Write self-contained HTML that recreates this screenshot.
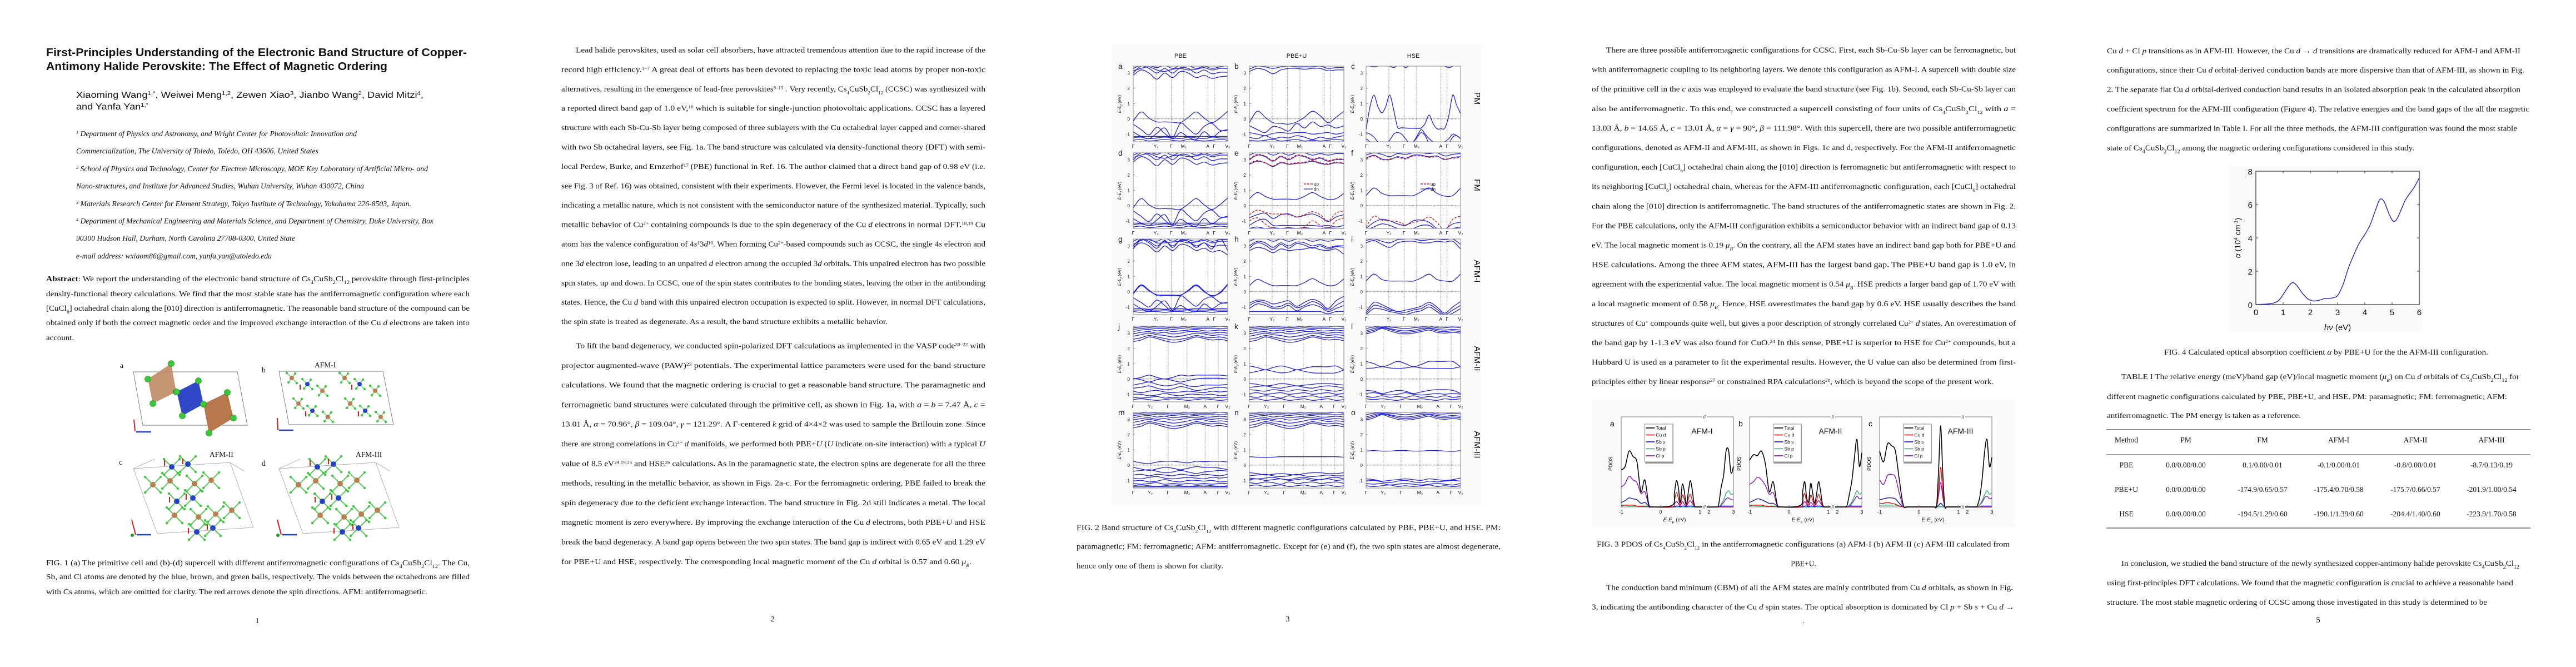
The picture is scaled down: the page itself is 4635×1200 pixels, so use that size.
<!DOCTYPE html>
<html><head><meta charset="utf-8">
<style>
html,body{margin:0;padding:0;background:#fff;}
body{width:4635px;height:1200px;overflow:hidden;position:relative;}
svg{position:absolute;left:0;top:0;}
.s{font-family:"Liberation Serif",serif;font-size:13.5px;fill:#111;}
.sa{font-family:"Liberation Sans",sans-serif;fill:#111;}
.it{font-style:italic;}
</style></head>
<body>
<svg id="page" width="4635" height="1200" viewBox="0 0 4635 1200" xmlns="http://www.w3.org/2000/svg">
<rect width="4635" height="1200" fill="#fff"/>
<!-- figure backgrounds -->
<rect x="2000" y="80" width="665" height="830" fill="#fafafa"/>
<rect x="2864" y="719" width="763" height="230" fill="#fafafa"/>
<rect x="4010" y="297" width="349" height="299" fill="#fafafa"/>

<!-- ================= PAGE 1 ================= -->
<g>
<text class="sa" x="83" y="101" font-size="20" font-weight="bold" textLength="757" lengthAdjust="spacingAndGlyphs">First-Principles Understanding of the Electronic Band Structure of Copper-</text>
<text class="sa" x="83" y="126" font-size="20" font-weight="bold" textLength="614" lengthAdjust="spacingAndGlyphs">Antimony Halide Perovskite: The Effect of Magnetic Ordering</text>
<text class="sa" x="137" y="176" font-size="16" textLength="625" lengthAdjust="spacingAndGlyphs">Xiaoming Wang<tspan baseline-shift="super" font-size="10">1,*</tspan>, Weiwei Meng<tspan baseline-shift="super" font-size="10">1,2</tspan>, Zewen Xiao<tspan baseline-shift="super" font-size="10">3</tspan>, Jianbo Wang<tspan baseline-shift="super" font-size="10">2</tspan>, David Mitzi<tspan baseline-shift="super" font-size="10">4</tspan>,</text>
<text class="sa" x="137" y="197" font-size="16" textLength="130" lengthAdjust="spacingAndGlyphs">and Yanfa Yan<tspan baseline-shift="super" font-size="10">1,*</tspan></text>
<g class="s it" font-size="12.5">
<text x="137" y="245" textLength="505" lengthAdjust="spacingAndGlyphs"><tspan baseline-shift="super" font-size="8">1</tspan> Department of Physics and Astronomy, and Wright Center for Photovoltaic Innovation and</text>
<text x="137" y="276" textLength="436" lengthAdjust="spacingAndGlyphs">Commercialization, The University of Toledo, Toledo, OH 43606, United States</text>
<text x="137" y="308" textLength="633" lengthAdjust="spacingAndGlyphs"><tspan baseline-shift="super" font-size="8">2</tspan> School of Physics and Technology, Center for Electron Microscopy, MOE Key Laboratory of Artificial Micro- and</text>
<text x="137" y="339" textLength="518" lengthAdjust="spacingAndGlyphs">Nano-structures, and Institute for Advanced Studies, Wuhan University, Wuhan 430072, China</text>
<text x="137" y="371" textLength="603" lengthAdjust="spacingAndGlyphs"><tspan baseline-shift="super" font-size="8">3</tspan> Materials Research Center for Element Strategy, Tokyo Institute of Technology, Yokohama 226-8503, Japan.</text>
<text x="137" y="402" textLength="643" lengthAdjust="spacingAndGlyphs"><tspan baseline-shift="super" font-size="8">4</tspan> Department of Mechanical Engineering and Materials Science, and Department of Chemistry, Duke University, Box</text>
<text x="137" y="433" textLength="394" lengthAdjust="spacingAndGlyphs">90300 Hudson Hall, Durham, North Carolina 27708-0300, United State</text>
<text x="137" y="465" textLength="352" lengthAdjust="spacingAndGlyphs">e-mail address: wxiaom86@gmail.com, yanfa.yan@utoledo.edu</text>
</g>
<g class="s" font-size="14">
<text x="83" y="506" textLength="762" lengthAdjust="spacingAndGlyphs"><tspan font-weight="bold">Abstract</tspan>: We report the understanding of the electronic band structure of Cs<tspan baseline-shift="sub" font-size="9">4</tspan>CuSb<tspan baseline-shift="sub" font-size="9">2</tspan>Cl<tspan baseline-shift="sub" font-size="9">12</tspan> perovskite through first-principles</text>
<text x="83" y="533" textLength="762" lengthAdjust="spacingAndGlyphs">density-functional theory calculations. We find that the most stable state has the antiferromagnetic configuration where each</text>
<text x="83" y="559" textLength="762" lengthAdjust="spacingAndGlyphs">[CuCl<tspan baseline-shift="sub" font-size="9">6</tspan>] octahedral chain along the [010] direction is antiferromagnetic. The reasonable band structure of the compound can be</text>
<text x="83" y="585" textLength="762" lengthAdjust="spacingAndGlyphs">obtained only if both the correct magnetic order and the improved exchange interaction of the Cu <tspan class="it">d</tspan> electrons are taken into</text>
<text x="83" y="612" textLength="50" lengthAdjust="spacingAndGlyphs">account.</text>
</g>
<g id="fig1"></g>
<g class="s" font-size="14">
<text x="83" y="1017" textLength="762" lengthAdjust="spacingAndGlyphs">FIG. 1 (a) The primitive cell and (b)-(d) supercell with different antiferromagnetic configurations of Cs<tspan baseline-shift="sub" font-size="9">4</tspan>CuSb<tspan baseline-shift="sub" font-size="9">2</tspan>Cl<tspan baseline-shift="sub" font-size="9">12</tspan>. The Cu,</text>
<text x="83" y="1042" textLength="762" lengthAdjust="spacingAndGlyphs">Sb, and Cl atoms are denoted by the blue, brown, and green balls, respectively. The voids between the octahedrons are filled</text>
<text x="83" y="1069" textLength="686" lengthAdjust="spacingAndGlyphs">with Cs atoms, which are omitted for clarity.  The red arrows denote the spin directions. AFM: antiferromagnetic.</text>
</g>
<text class="s" x="463" y="1121" font-size="15" text-anchor="middle">1</text>
</g>

<!-- ================= PAGE 2 ================= -->
<g class="s" font-size="13">
<text x="1036" y="94.5" textLength="737" lengthAdjust="spacingAndGlyphs">Lead halide perovskites, used as solar cell absorbers, have attracted tremendous attention due to the rapid increase of the</text>
<text x="1010" y="129.4" textLength="763" lengthAdjust="spacingAndGlyphs">record high efficiency.<tspan baseline-shift="super" font-size="8">1–7</tspan> A great deal of efforts has been devoted to replacing the toxic lead atoms by proper non-toxic</text>
<text x="1010" y="164.3" textLength="763" lengthAdjust="spacingAndGlyphs">alternatives, resulting in the emergence of lead-free perovskites<tspan baseline-shift="super" font-size="8">8–15</tspan> . Very recently, Cs<tspan baseline-shift="sub" font-size="8">4</tspan>CuSb<tspan baseline-shift="sub" font-size="8">2</tspan>Cl<tspan baseline-shift="sub" font-size="8">12</tspan> (CCSC) was synthesized with</text>
<text x="1010" y="199.2" textLength="763" lengthAdjust="spacingAndGlyphs">a reported direct band gap of 1.0 eV,<tspan baseline-shift="super" font-size="8">16</tspan> which is suitable for single-junction photovoltaic applications. CCSC has a layered</text>
<text x="1010" y="234.1" textLength="763" lengthAdjust="spacingAndGlyphs">structure with each Sb-Cu-Sb layer being composed of three sublayers with the Cu octahedral layer capped and corner-shared</text>
<text x="1010" y="269" textLength="763" lengthAdjust="spacingAndGlyphs">with two Sb octahedral layers, see Fig. 1a. The band structure was calculated via density-functional theory (DFT) with semi-</text>
<text x="1010" y="303.9" textLength="763" lengthAdjust="spacingAndGlyphs">local Perdew, Burke, and Ernzerhof<tspan baseline-shift="super" font-size="8">17</tspan> (PBE) functional in Ref. 16. The author claimed that a direct band gap of 0.98 eV (i.e.</text>
<text x="1010" y="338.8" textLength="763" lengthAdjust="spacingAndGlyphs">see Fig. 3 of Ref. 16) was obtained, consistent with their experiments. However, the Fermi level is located in the valence bands,</text>
<text x="1010" y="373.7" textLength="763" lengthAdjust="spacingAndGlyphs">indicating a metallic nature, which is not consistent with the semiconductor nature of the synthesized material. Typically, such</text>
<text x="1010" y="408.6" textLength="763" lengthAdjust="spacingAndGlyphs">metallic behavior of Cu<tspan baseline-shift="super" font-size="8">2+</tspan> containing compounds is due to the spin degeneracy of the Cu <tspan class="it">d</tspan> electrons in normal DFT.<tspan baseline-shift="super" font-size="8">18,19</tspan> Cu</text>
<text x="1010" y="443.5" textLength="763" lengthAdjust="spacingAndGlyphs">atom has the valence configuration of 4<tspan class="it">s</tspan><tspan baseline-shift="super" font-size="8">1</tspan>3<tspan class="it">d</tspan><tspan baseline-shift="super" font-size="8">10</tspan>. When forming Cu<tspan baseline-shift="super" font-size="8">2+</tspan>-based compounds such as CCSC, the single 4<tspan class="it">s</tspan> electron and</text>
<text x="1010" y="478.4" textLength="763" lengthAdjust="spacingAndGlyphs">one 3<tspan class="it">d</tspan> electron lose, leading to an unpaired <tspan class="it">d</tspan> electron among the occupied 3<tspan class="it">d</tspan> orbitals. This unpaired electron has two possible</text>
<text x="1010" y="513.3" textLength="763" lengthAdjust="spacingAndGlyphs">spin states, up and down. In CCSC, one of the spin states contributes to the bonding states, leaving the other in the antibonding</text>
<text x="1010" y="548.2" textLength="763" lengthAdjust="spacingAndGlyphs">states. Hence, the Cu <tspan class="it">d</tspan> band with this unpaired electron occupation is expected to split. However, in normal DFT calculations,</text>
<text x="1010" y="583.1" textLength="587" lengthAdjust="spacingAndGlyphs">the spin state is treated as degenerate. As a result, the band structure exhibits a metallic behavior.</text>
<text x="1036" y="626.5" textLength="737" lengthAdjust="spacingAndGlyphs">To lift the band degeneracy, we conducted spin-polarized DFT calculations as implemented in the VASP code<tspan baseline-shift="super" font-size="8">20–22</tspan> with</text>
<text x="1010" y="661.8" textLength="763" lengthAdjust="spacingAndGlyphs">projector augmented-wave (PAW)<tspan baseline-shift="super" font-size="8">23</tspan> potentials. The experimental lattice parameters were used for the band structure</text>
<text x="1010" y="697.1" textLength="763" lengthAdjust="spacingAndGlyphs">calculations. We found that the magnetic ordering is crucial to get a reasonable band structure. The paramagnetic and</text>
<text x="1010" y="732.4" textLength="763" lengthAdjust="spacingAndGlyphs">ferromagnetic band structures were calculated through the primitive cell, as shown in Fig. 1a, with <tspan class="it">a</tspan> = <tspan class="it">b</tspan> = 7.47 Å, <tspan class="it">c</tspan> =</text>
<text x="1010" y="767.7" textLength="763" lengthAdjust="spacingAndGlyphs">13.01 Å, <tspan class="it">α</tspan> = 70.96°, <tspan class="it">β</tspan> = 109.04°, <tspan class="it">γ</tspan> = 121.29°. A Γ-centered <tspan class="it">k</tspan> grid of 4×4×2 was used to sample the Brillouin zone. Since</text>
<text x="1010" y="803" textLength="763" lengthAdjust="spacingAndGlyphs">there are strong correlations in Cu<tspan baseline-shift="super" font-size="8">2+</tspan> <tspan class="it">d</tspan> manifolds, we performed both PBE+<tspan class="it">U</tspan> (<tspan class="it">U</tspan> indicate on-site interaction) with a typical <tspan class="it">U</tspan></text>
<text x="1010" y="838.3" textLength="763" lengthAdjust="spacingAndGlyphs">value of 8.5 eV<tspan baseline-shift="super" font-size="8">24,19,25</tspan> and HSE<tspan baseline-shift="super" font-size="8">26</tspan> calculations. As in the paramagnetic state, the electron spins are degenerate for all the three</text>
<text x="1010" y="873.6" textLength="763" lengthAdjust="spacingAndGlyphs">methods, resulting in the metallic behavior, as shown in Figs. 2a-c. For the ferromagnetic ordering, PBE failed to break the</text>
<text x="1010" y="908.9" textLength="763" lengthAdjust="spacingAndGlyphs">spin degeneracy due to the deficient exchange interaction. The band structure in Fig. 2d still indicates a metal. The local</text>
<text x="1010" y="944.2" textLength="763" lengthAdjust="spacingAndGlyphs">magnetic moment is zero everywhere. By improving the exchange interaction of the Cu <tspan class="it">d</tspan> electrons, both PBE+<tspan class="it">U</tspan> and HSE</text>
<text x="1010" y="979.5" textLength="763" lengthAdjust="spacingAndGlyphs">break the band degeneracy. A band gap opens between the two spin states.  The band gap is indirect with 0.65 eV and 1.29 eV</text>
<text x="1010" y="1014.8" textLength="738" lengthAdjust="spacingAndGlyphs">for PBE+U and HSE, respectively. The corresponding local magnetic moment of the Cu <tspan class="it">d</tspan> orbital is 0.57 and 0.60 <tspan class="it">μ</tspan><tspan baseline-shift="sub" font-size="8" class="it">B</tspan>.</text>
<text x="1390" y="1118" font-size="14" text-anchor="middle">2</text>
</g>

<!-- ================= PAGE 3 ================= -->
<g id="fig2"></g>
<g class="s" font-size="13">
<text x="1937" y="953.5" textLength="763" lengthAdjust="spacingAndGlyphs">FIG. 2 Band structure of Cs<tspan baseline-shift="sub" font-size="8">4</tspan>CuSb<tspan baseline-shift="sub" font-size="8">2</tspan>Cl<tspan baseline-shift="sub" font-size="8">12</tspan> with different magnetic configurations calculated by PBE, PBE+U, and HSE. PM:</text>
<text x="1937" y="987.5" textLength="763" lengthAdjust="spacingAndGlyphs">paramagnetic; FM: ferromagnetic; AFM: antiferromagnetic. Except for (e) and (f), the two spin states are almost degenerate,</text>
<text x="1937" y="1022.5" textLength="264" lengthAdjust="spacingAndGlyphs">hence only one of them is shown for clarity.</text>
<text x="2317" y="1118" font-size="14" text-anchor="middle">3</text>
</g>

<!-- ================= PAGE 4 ================= -->
<g class="s" font-size="13">
<text x="2890" y="94.5" textLength="737" lengthAdjust="spacingAndGlyphs">There are three possible antiferromagnetic configurations for CCSC. First, each Sb-Cu-Sb layer can be ferromagnetic, but</text>
<text x="2864" y="129.6" textLength="763" lengthAdjust="spacingAndGlyphs">with antiferromagnetic coupling to its neighboring layers. We denote this configuration as AFM-I. A supercell with double size</text>
<text x="2864" y="164.7" textLength="763" lengthAdjust="spacingAndGlyphs">of the primitive cell in the <tspan class="it">c</tspan> axis was employed to evaluate the band structure (see Fig. 1b). Second, each Sb-Cu-Sb layer can</text>
<text x="2864" y="199.8" textLength="763" lengthAdjust="spacingAndGlyphs">also be antiferromagnetic. To this end, we constructed a supercell consisting of four units of Cs<tspan baseline-shift="sub" font-size="8">4</tspan>CuSb<tspan baseline-shift="sub" font-size="8">2</tspan>Cl<tspan baseline-shift="sub" font-size="8">12</tspan> with <tspan class="it">a</tspan> =</text>
<text x="2864" y="234.9" textLength="763" lengthAdjust="spacingAndGlyphs">13.03 Å, <tspan class="it">b</tspan> = 14.65 Å, <tspan class="it">c</tspan> = 13.01 Å, <tspan class="it">α</tspan> = <tspan class="it">γ</tspan> = 90°, <tspan class="it">β</tspan> = 111.98°. With this supercell, there are two possible antiferromagnetic</text>
<text x="2864" y="270" textLength="763" lengthAdjust="spacingAndGlyphs">configurations, denoted as AFM-II and AFM-III, as shown in Figs. 1c and d, respectively. For the AFM-II antiferromagnetic</text>
<text x="2864" y="305.1" textLength="763" lengthAdjust="spacingAndGlyphs">configuration, each [CuCl<tspan baseline-shift="sub" font-size="8">6</tspan>] octahedral chain along the [010] direction is ferromagnetic but antiferromagnetic with respect to</text>
<text x="2864" y="340.2" textLength="763" lengthAdjust="spacingAndGlyphs">its neighboring [CuCl<tspan baseline-shift="sub" font-size="8">6</tspan>] octahedral chain, whereas for the AFM-III antiferromagnetic configuration, each [CuCl<tspan baseline-shift="sub" font-size="8">6</tspan>] octahedral</text>
<text x="2864" y="375.3" textLength="763" lengthAdjust="spacingAndGlyphs">chain along the [010] direction is antiferromagnetic.  The band structures of the antiferromagnetic states are shown in Fig. 2.</text>
<text x="2864" y="410.4" textLength="763" lengthAdjust="spacingAndGlyphs">For the PBE calculations, only the AFM-III configuration exhibits a semiconductor behavior with an indirect band gap of 0.13</text>
<text x="2864" y="445.5" textLength="763" lengthAdjust="spacingAndGlyphs">eV. The local magnetic moment is 0.19 <tspan class="it">μ</tspan><tspan baseline-shift="sub" font-size="8" class="it">B</tspan>. On the contrary, all the AFM states have an indirect band gap both for PBE+U and</text>
<text x="2864" y="480.6" textLength="763" lengthAdjust="spacingAndGlyphs">HSE calculations. Among the three AFM states, AFM-III has the largest band gap. The PBE+U band gap is 1.0 eV, in</text>
<text x="2864" y="515.7" textLength="763" lengthAdjust="spacingAndGlyphs">agreement with the experimental value. The local magnetic moment is 0.54 <tspan class="it">μ</tspan><tspan baseline-shift="sub" font-size="8" class="it">B</tspan>. HSE predicts a larger band gap of 1.70 eV with</text>
<text x="2864" y="550.8" textLength="763" lengthAdjust="spacingAndGlyphs">a local magnetic moment of 0.58 <tspan class="it">μ</tspan><tspan baseline-shift="sub" font-size="8" class="it">B</tspan>. Hence, HSE overestimates the band gap by 0.6 eV. HSE usually describes the band</text>
<text x="2864" y="585.9" textLength="763" lengthAdjust="spacingAndGlyphs">structures of Cu<tspan baseline-shift="super" font-size="8">+</tspan> compounds quite well, but gives a poor description of strongly correlated Cu<tspan baseline-shift="super" font-size="8">2+</tspan> <tspan class="it">d</tspan> states. An overestimation of</text>
<text x="2864" y="621" textLength="763" lengthAdjust="spacingAndGlyphs">the band gap by 1-1.3 eV was also found for CuO.<tspan baseline-shift="super" font-size="8">24</tspan> In this sense, PBE+U is superior to HSE for Cu<tspan baseline-shift="super" font-size="8">2+</tspan> compounds, but a</text>
<text x="2864" y="656.1" textLength="763" lengthAdjust="spacingAndGlyphs">Hubbard U is used as a parameter to fit the experimental results. However, the U value can also be determined from first-</text>
<text x="2864" y="691.2" textLength="723" lengthAdjust="spacingAndGlyphs">principles either by linear response<tspan baseline-shift="super" font-size="8">27</tspan> or constrained RPA calculations<tspan baseline-shift="super" font-size="8">28</tspan>, which is beyond the scope of the present work.</text>
</g>
<g id="fig3"></g>
<g class="s" font-size="13">
<text x="2873" y="983.5" textLength="743" lengthAdjust="spacingAndGlyphs">FIG. 3 PDOS of Cs<tspan baseline-shift="sub" font-size="8">4</tspan>CuSb<tspan baseline-shift="sub" font-size="8">2</tspan>Cl<tspan baseline-shift="sub" font-size="8">12</tspan> in the antiferromagnetic configurations (a) AFM-I (b) AFM-II (c) AFM-III calculated from</text>
<text x="3245" y="1018.5" text-anchor="middle">PBE+U.</text>
<text x="2890" y="1061.5" textLength="732" lengthAdjust="spacingAndGlyphs">The conduction band minimum (CBM) of all the AFM states are mainly contributed from Cu <tspan class="it">d</tspan> orbitals, as shown in Fig.</text>
<text x="2864" y="1096.5" textLength="760" lengthAdjust="spacingAndGlyphs">3, indicating the antibonding character of the Cu <tspan class="it">d</tspan> spin states. The optical absorption is dominated by Cl <tspan class="it">p</tspan> + Sb <tspan class="it">s</tspan> + Cu <tspan class="it">d</tspan> →</text>
<text x="3245" y="1121" text-anchor="middle">.</text>
</g>

<!-- ================= PAGE 5 ================= -->
<g class="s" font-size="13.5">
<text x="3791" y="96" textLength="744" lengthAdjust="spacingAndGlyphs">Cu <tspan class="it">d</tspan> + Cl <tspan class="it">p</tspan> transitions as in AFM-III. However, the Cu <tspan class="it">d</tspan> → <tspan class="it">d</tspan> transitions are dramatically reduced for AFM-I and AFM-II</text>
<text x="3791" y="130.5" textLength="751" lengthAdjust="spacingAndGlyphs">configurations, since their Cu <tspan class="it">d</tspan> orbital-derived conduction bands are more dispersive than that of AFM-III, as shown in Fig.</text>
<text x="3791" y="165.5" textLength="744" lengthAdjust="spacingAndGlyphs">2. The separate flat Cu <tspan class="it">d</tspan> orbital-derived conduction band results in an isolated absorption peak in the calculated absorption</text>
<text x="3791" y="200.5" textLength="760" lengthAdjust="spacingAndGlyphs">coefficient spectrum for the AFM-III configuration (Figure 4). The relative energies and the band gaps of the all the magnetic</text>
<text x="3791" y="235.5" textLength="738" lengthAdjust="spacingAndGlyphs">configurations are summarized in Table I. For all the three methods, the AFM-III configuration was found the most stable</text>
<text x="3791" y="270.5" textLength="553" lengthAdjust="spacingAndGlyphs">state of Cs<tspan baseline-shift="sub" font-size="9">4</tspan>CuSb<tspan baseline-shift="sub" font-size="9">2</tspan>Cl<tspan baseline-shift="sub" font-size="9">12</tspan> among the magnetic ordering configurations considered in this study.</text>
</g>
<g id="fig4"></g>
<g class="s" font-size="13.5">
<text x="3894" y="638" textLength="583" lengthAdjust="spacingAndGlyphs">FIG. 4 Calculated optical absorption coefficient <tspan class="it">α</tspan> by PBE+U for the the AFM-III configuration.</text>
<text x="3817" y="682" textLength="716" lengthAdjust="spacingAndGlyphs">TABLE I The relative energy (meV)/band gap (eV)/local magnetic moment (<tspan class="it">μ</tspan><tspan baseline-shift="sub" font-size="8" class="it">B</tspan>) on Cu <tspan class="it">d</tspan> orbitals of Cs<tspan baseline-shift="sub" font-size="9">4</tspan>CuSb<tspan baseline-shift="sub" font-size="9">2</tspan>Cl<tspan baseline-shift="sub" font-size="9">12</tspan> for</text>
<text x="3791" y="718" textLength="720" lengthAdjust="spacingAndGlyphs">different magnetic configurations calculated by PBE, PBE+U, and HSE. PM: paramagnetic; FM: ferromagnetic; AFM:</text>
<text x="3791" y="752" textLength="349" lengthAdjust="spacingAndGlyphs">antiferromagnetic. The PM energy is taken as a reference.</text>
</g>
<g>
<line x1="3790" y1="773" x2="4553" y2="773" stroke="#666" stroke-width="1.6"/>
<line x1="3790" y1="818" x2="4553" y2="818" stroke="#666" stroke-width="1.3"/>
<line x1="3790" y1="950" x2="4553" y2="950" stroke="#666" stroke-width="1.6"/>
<g class="s" font-size="14" text-anchor="middle">
<text x="3826" y="796">Method</text><text x="3933" y="796">PM</text><text x="4071" y="796">FM</text><text x="4208" y="796">AFM-I</text><text x="4346" y="796">AFM-II</text><text x="4483" y="796">AFM-III</text>
<text x="3826" y="841">PBE</text><text x="3933" y="841">0.0/0.00/0.00</text><text x="4071" y="841">0.1/0.00/0.01</text><text x="4208" y="841">-0.1/0.00/0.01</text><text x="4346" y="841">-0.8/0.00/0.01</text><text x="4483" y="841">-8.7/0.13/0.19</text>
<text x="3826" y="885">PBE+U</text><text x="3933" y="885">0.0/0.00/0.00</text><text x="4071" y="885">-174.9/0.65/0.57</text><text x="4208" y="885">-175.4/0.70/0.58</text><text x="4346" y="885">-175.7/0.66/0.57</text><text x="4483" y="885">-201.9/1.00/0.54</text>
<text x="3826" y="929">HSE</text><text x="3933" y="929">0.0/0.00/0.00</text><text x="4071" y="929">-194.5/1.29/0.60</text><text x="4208" y="929">-190.1/1.39/0.60</text><text x="4346" y="929">-204.4/1.40/0.60</text><text x="4483" y="929">-223.9/1.70/0.58</text>
</g>
</g>
<g class="s" font-size="13.5">
<text x="3817" y="1018" textLength="716" lengthAdjust="spacingAndGlyphs">In conclusion, we studied the band structure of the newly synthesized copper-antimony halide perovskite Cs<tspan baseline-shift="sub" font-size="9">4</tspan>CuSb<tspan baseline-shift="sub" font-size="9">2</tspan>Cl<tspan baseline-shift="sub" font-size="9">12</tspan></text>
<text x="3791" y="1053" textLength="731" lengthAdjust="spacingAndGlyphs">using first-principles DFT calculations. We found that the magnetic configuration is crucial to achieve a reasonable band</text>
<text x="3791" y="1088" textLength="684" lengthAdjust="spacingAndGlyphs">structure. The most stable magnetic ordering of CCSC among those investigated in this study is determined to be</text>
<text x="4171" y="1120" font-size="15" text-anchor="middle">5</text>
</g>
</svg>

<script>
const NS = "http://www.w3.org/2000/svg";
function mk(parent, tag, attrs, text) {
  const e = document.createElementNS(NS, tag);
  for (const k in attrs) e.setAttribute(k, attrs[k]);
  if (text !== undefined) e.textContent = text;
  parent.appendChild(e);
  return e;
}
function smooth(pts) {
  let d = "M" + pts[0][0].toFixed(1) + "," + pts[0][1].toFixed(1);
  for (let i = 0; i < pts.length - 1; i++) {
    const p0 = pts[i - 1] || pts[i], p1 = pts[i], p2 = pts[i + 1], p3 = pts[i + 2] || p2;
    const c1x = p1[0] + (p2[0] - p0[0]) / 6, c1y = p1[1] + (p2[1] - p0[1]) / 6;
    const c2x = p2[0] - (p3[0] - p1[0]) / 6, c2y = p2[1] - (p3[1] - p1[1]) / 6;
    d += " C" + c1x.toFixed(1) + "," + c1y.toFixed(1) + " " + c2x.toFixed(1) + "," + c2y.toFixed(1) + " " + p2[0].toFixed(1) + "," + p2[1].toFixed(1);
  }
  return d;
}

/* ================= FIG 2 DATA ================= */
const kGrid = [0, 0.083, 0.167, 0.25, 0.333, 0.417, 0.5, 0.583, 0.667, 0.75, 0.833, 0.917, 1];
const kFine = [0,0.042,0.083,0.125,0.167,0.208,0.25,0.292,0.333,0.375,0.417,0.458,0.5,0.542,0.583,0.625,0.667,0.708,0.75,0.792,0.833,0.875,0.917,0.958,1];
const symPointsA = [0, 0.241, 0.402, 0.535, 0.79, 0.857, 1];
const symPointsB = [0, 0.18, 0.37, 0.57, 0.76, 0.9, 1];
const symLabels = ["Γ", "Y₂", "Γ", "M₂", "A", "Γ", "V₂"];
const energyTicks = [-1, 0, 1, 2, 3];
const colTitles = ["PBE", "PBE+U", "HSE"];
const rowTitles = ["PM", "FM", "AFM-I", "AFM-II", "AFM-III"];
const panelLetters = ["a","b","c","d","e","f","g","h","i","j","k","l","m","n","o"];

const bandsA = [
 [-0.15,0.45,0.05,-0.2,-0.2,-0.22,-0.25,0.1,0.45,0.05,-0.25,0.05,0.5],
 [-0.35,-0.7,-1.05,-0.55,-0.95,-1.25,-0.3,-0.65,-1.0,-0.5,-0.3,-0.75,-0.75],
 [-0.85,-1.15,-1.3,-0.95,-0.6,-1.3,-0.9,-1.2,-1.35,-0.85,-1.2,-0.85,-0.7],
 [-1.15,-1.15,-1.15,-1.15,-1.15,-1.15,-1.15,-1.15,-1.15,-1.15,-1.15,-1.15,-1.15],
 [-1.25,-1.2,-1.3,-1.25,-1.2,-1.25,-1.3,-1.2,-1.25,-1.3,-1.2,-1.25,-1.25],
 [-1.4,-1.35,-1.45,-1.4,-1.35,-1.4,-1.45,-1.35,-1.4,-1.45,-1.4,-1.35,-1.4],
 [2.85,3.2,3.0,2.6,3.0,2.7,3.1,3.0,2.7,2.85,2.65,2.75,2.8],
 [3.0,3.45,3.3,3.0,3.3,3.0,3.35,3.3,3.0,3.2,2.95,3.05,3.05],
 [3.3,3.5,3.5,3.35,3.5,3.3,3.5,3.5,3.3,3.45,3.3,3.4,3.5],
 [3.15,3.3,3.4,3.2,3.1,3.25,3.3,3.2,3.25,3.35,3.2,3.3,3.3]
];
const bandsB = [
 [-0.25,0.5,0.1,-0.25,-0.3,-0.35,-0.2,0.1,0.5,0.2,-0.25,0.1,0.5],
 [-0.45,-0.7,-0.9,-0.5,-0.6,-0.8,-0.3,-0.6,-0.2,-0.5,-0.4,-0.6,-0.45],
 [-0.9,-1.0,-1.1,-0.95,-0.9,-0.95,-0.9,-0.9,-1.0,-0.95,-0.9,-1.0,-0.9],
 [-1.2,-1.3,-1.1,-1.3,-1.2,-1.25,-1.1,-1.2,-1.35,-1.2,-1.3,-1.2,-1.1],
 [-1.4,-1.45,-1.4,-1.35,-1.45,-1.4,-1.35,-1.45,-1.4,-1.45,-1.4,-1.35,-1.4],
 [3.1,3.3,3.2,2.95,3.2,3.3,3.3,3.25,3.3,3.3,3.15,3.2,3.2],
 [3.25,3.45,3.4,3.3,3.4,3.45,3.4,3.4,3.4,3.45,3.3,3.35,3.35]
];
const bandsC = [
 [-0.7,0.8,1.55,0.8,0.4,0.8,1.55,0.6,-0.55,-0.58,-0.6,-0.62,-0.62,-0.63,-0.6,-0.3,0.25,-0.3,-0.65,-0.65,-0.6,0.2,1.55,0.9,0.35],
 [-0.9,-1.0,-1.2,-1.5,-1.6,-1.6,-1.4,-1.0,-0.9,-1.0,-1.3,-1.6,-1.5,-1.1,-0.7,-1.0,-1.3,-1.5,-1.6,-1.6,-1.5,-1.3,-1.0,-1.1,-1.3],
 [-1.3,-1.5,-1.6,-1.6,-1.6,-1.6,-1.6,-1.55,-1.5,-1.6,-1.6,-1.6,-1.5,-1.2,-0.9,-1.1,-1.6,-1.6,-1.6,-1.6,-1.6,-1.6,-1.2,-1.1,-1.3],
 [3.5,3.45,3.4,3.45,3.5,3.5,3.45,3.35,3.5,3.55,3.35,3.5,3.6,3.6,3.6,3.6,3.6,3.6,3.6,3.6,3.45,3.35,3.45,3.6,3.6]
];
const bandsEdn = [
 [0.45,0.85,0.6,0.42,0.42,0.42,0.4,0.6,0.85,0.6,0.4,0.45,0.8],
 [-0.8,-0.6,-0.5,-0.85,-0.6,-0.55,-0.75,-0.65,-0.55,-0.75,-1.05,-0.75,-0.6],
 [-1.3,-1.0,-0.9,-1.3,-1.3,-1.3,-1.3,-1.3,-1.3,-1.35,-1.3,-1.4,-1.3],
 [-1.5,-1.4,-1.5,-1.45,-1.5,-1.45,-1.5,-1.45,-1.5,-1.5,-1.45,-1.5,-1.5],
 [2.7,2.9,2.8,2.55,2.8,2.7,2.75,2.8,2.9,2.75,2.7,2.8,2.75],
 [3.0,3.3,3.2,2.9,3.2,3.0,3.25,3.2,3.0,3.1,2.9,3.0,3.0],
 [3.3,3.5,3.5,3.3,3.45,3.3,3.45,3.45,3.3,3.4,3.3,3.4,3.4]
];
const bandsEup = [
 [-0.6,-0.3,-0.45,-0.55,-0.55,-0.6,-0.75,-0.6,-0.4,-0.6,-1.0,-0.5,-0.35],
 [-1.0,-0.8,-1.2,-1.5,-1.5,-1.5,-1.5,-1.4,-1.0,-1.3,-1.5,-1.0,-0.8],
 [2.75,2.95,2.8,2.6,2.85,2.75,2.8,2.85,2.95,2.8,2.75,2.85,2.8],
 [3.05,3.35,3.25,2.95,3.25,3.05,3.3,3.25,3.05,3.15,2.95,3.05,3.05]
];
const bandsFdn = [
 [0.65,1.15,0.8,0.65,0.65,0.65,0.65,0.9,1.15,0.8,0.62,0.65,1.15],
 [-1.5,-1.1,-0.9,-1.0,-1.2,-1.3,-1.0,-0.95,-1.1,-1.5,-1.55,-1.2,-1.1],
 [-1.6,-1.4,-1.2,-1.3,-1.5,-1.6,-1.5,-1.3,-1.3,-1.6,-1.6,-1.5,-1.4],
 [3.1,3.3,3.05,3.0,3.2,3.1,3.3,3.3,3.2,3.25,3.0,3.15,3.2],
 [3.3,3.45,3.35,3.2,3.4,3.35,3.45,3.45,3.4,3.45,3.25,3.35,3.4]
];
const bandsFup = [
 [-1.4,-0.7,-0.95,-1.0,-1.05,-1.25,-1.1,-1.0,-0.75,-1.1,-1.6,-0.9,-0.7],
 [3.05,3.25,3.0,3.05,3.15,3.05,3.25,3.25,3.15,3.2,3.05,3.1,3.15]
];
const bandsG = [
 [-0.1,0.45,0.1,-0.25,-0.25,-0.25,-0.25,0.1,0.45,0.05,-0.3,-0.05,0.5],
 [-0.15,0.4,0.05,-0.2,-0.22,-0.22,-0.22,0.05,0.4,0.0,-0.25,-0.1,0.45],
 [-0.4,-0.7,-1.0,-0.55,-0.9,-1.25,-0.3,-0.6,-0.95,-0.5,-0.35,-0.7,-0.75],
 [-0.8,-1.1,-1.3,-0.95,-0.6,-1.2,-0.9,-1.2,-1.3,-0.8,-1.1,-0.8,-0.7],
 [-1.1,-1.1,-1.15,-1.1,-1.15,-1.1,-1.1,-1.15,-1.1,-1.1,-1.15,-1.1,-1.1],
 [-1.2,-1.2,-1.2,-1.2,-1.2,-1.2,-1.2,-1.2,-1.2,-1.2,-1.2,-1.2,-1.2],
 [-1.3,-1.35,-1.3,-1.3,-1.35,-1.3,-1.3,-1.35,-1.3,-1.3,-1.35,-1.3,-1.3],
 [2.9,3.2,3.0,2.6,3.0,2.7,3.1,3.0,2.7,2.85,2.6,2.7,2.4],
 [3.0,3.45,3.3,3.0,3.3,3.0,3.35,3.3,3.0,3.2,2.95,3.05,3.0],
 [3.3,3.5,3.4,3.3,3.5,3.3,3.5,3.4,3.3,3.45,3.3,3.4,3.4],
 [3.1,3.35,3.45,3.2,3.2,3.25,3.3,3.2,3.25,3.35,3.2,3.3,3.3],
 [2.8,3.4,3.2,2.85,3.35,2.9,3.4,3.3,2.9,3.2,2.8,3.5,2.7]
];
const bandsH = [
 [0.4,0.8,0.6,0.4,0.4,0.4,0.4,0.6,0.85,0.6,0.4,0.45,0.85],
 [-0.75,-0.55,-0.6,-0.8,-0.7,-0.6,-0.95,-0.7,-0.5,-0.7,-1.1,-0.6,-0.3],
 [-0.9,-0.65,-0.75,-1.0,-0.95,-0.75,-1.05,-0.9,-0.65,-0.85,-1.2,-0.9,-0.6],
 [-1.1,-0.8,-0.9,-1.1,-1.1,-0.9,-1.25,-1.0,-0.85,-1.0,-1.3,-1.1,-0.9],
 [-1.3,-1.3,-1.3,-1.3,-1.3,-1.3,-1.3,-1.3,-1.3,-1.3,-1.45,-1.3,-1.3],
 [2.7,2.9,2.8,2.55,2.8,2.7,2.75,2.8,2.9,2.75,2.7,2.8,2.45],
 [2.85,3.2,3.05,2.75,3.1,2.85,3.15,3.05,2.85,3.0,2.8,2.95,2.9],
 [3.0,3.3,3.2,2.9,3.2,3.0,3.25,3.2,3.0,3.1,2.9,3.0,3.0],
 [3.3,3.5,3.5,3.3,3.45,3.3,3.45,3.45,3.3,3.4,3.3,3.4,3.4]
];
const bandsI = [
 [0.7,1.15,0.8,0.7,0.7,0.7,0.7,0.9,1.15,0.8,0.7,0.7,1.15],
 [-1.3,-0.7,-0.85,-1.1,-1.3,-1.2,-1.1,-0.95,-0.7,-1.0,-1.4,-1.0,-0.65],
 [-1.4,-0.9,-1.0,-1.2,-1.3,-1.35,-1.2,-1.1,-0.85,-1.15,-1.5,-1.2,-0.9],
 [-1.5,-1.1,-1.15,-1.3,-1.4,-1.5,-1.35,-1.25,-1.0,-1.3,-1.6,-1.4,-1.1],
 [3.2,3.35,3.1,2.9,3.2,3.3,3.3,3.2,3.2,3.3,3.25,3.3,2.8],
 [3.35,3.45,3.3,3.2,3.4,3.45,3.45,3.35,3.4,3.45,3.4,3.45,3.1]
];
const cbDense = [
 [2.45,2.55,2.75,2.65,2.5,2.4,2.45,2.6,2.75,2.65,2.55,2.6,2.5],
 [2.6,2.7,2.85,2.75,2.65,2.55,2.6,2.7,2.85,2.75,2.7,2.75,2.65],
 [2.8,2.9,3.0,2.9,2.85,2.75,2.8,2.9,3.0,2.95,2.85,2.9,2.85],
 [2.95,3.05,3.1,3.0,3.05,2.95,3.0,3.1,3.1,3.05,3.0,3.05,3.0],
 [3.1,3.2,3.25,3.15,3.2,3.1,3.15,3.2,3.25,3.15,3.15,3.2,3.15],
 [3.25,3.3,3.35,3.3,3.3,3.25,3.3,3.35,3.3,3.3,3.3,3.3,3.3],
 [3.35,3.4,3.45,3.4,3.4,3.35,3.4,3.45,3.4,3.4,3.4,3.45,3.4],
 [3.45,3.5,3.5,3.45,3.5,3.45,3.5,3.5,3.45,3.5,3.5,3.5,3.45]
];
const cbDenseHse = [
 [2.95,3.1,3.3,3.15,3.0,2.95,3.0,3.1,3.2,3.05,3.0,3.05,3.0],
 [3.05,3.2,3.35,3.25,3.1,3.05,3.1,3.2,3.3,3.15,3.1,3.15,3.1],
 [3.15,3.3,3.4,3.3,3.2,3.15,3.2,3.3,3.35,3.25,3.2,3.25,3.2],
 [3.3,3.4,3.45,3.4,3.35,3.3,3.35,3.4,3.45,3.35,3.35,3.4,3.35],
 [3.45,3.5,3.5,3.45,3.5,3.45,3.5,3.5,3.5,3.45,3.5,3.5,3.45]
];
const vbJ = [
 [0.0,0.1,0.25,0.1,0.0,0.1,0.25,0.2,0.25,0.25,0.25,0.25,0.2],
 [0.05,-0.05,-0.2,-0.05,0.0,-0.1,-0.2,-0.1,0.0,0.05,0.05,0.05,0.0],
 [-0.4,-0.3,-0.2,-0.35,-0.45,-0.4,-0.3,-0.45,-0.5,-0.4,-0.4,-0.4,-0.35],
 [-0.6,-0.55,-0.45,-0.6,-0.7,-0.65,-0.5,-0.6,-0.75,-0.7,-0.6,-0.55,-0.6],
 [-0.8,-0.9,-0.8,-0.75,-0.85,-0.9,-0.85,-0.8,-0.85,-0.9,-0.8,-0.85,-0.8],
 [-1.0,-1.0,-1.1,-1.05,-0.95,-1.05,-1.1,-1.0,-1.0,-1.05,-1.0,-1.1,-1.05],
 [-1.2,-1.25,-1.2,-1.15,-1.25,-1.2,-1.25,-1.2,-1.25,-1.2,-1.25,-1.2,-1.2],
 [-1.35,-1.3,-1.35,-1.4,-1.35,-1.3,-1.35,-1.4,-1.35,-1.3,-1.35,-1.4,-1.35]
];
const bandsK = [
 [0.85,0.75,0.6,0.75,0.85,0.75,0.6,0.7,0.8,0.8,0.8,0.85,0.6],
 [0.4,0.5,0.6,0.5,0.4,0.45,0.6,0.5,0.4,0.38,0.38,0.4,0.6],
 [-0.3,-0.35,-0.45,-0.4,-0.3,-0.35,-0.45,-0.4,-0.35,-0.3,-0.3,-0.35,-0.4],
 [-0.55,-0.5,-0.45,-0.55,-0.6,-0.5,-0.45,-0.55,-0.6,-0.5,-0.45,-0.5,-0.6],
 [-0.7,-0.75,-0.8,-0.7,-0.75,-0.8,-0.7,-0.75,-0.8,-0.7,-0.75,-0.8,-0.7],
 [-0.95,-0.9,-1.0,-0.95,-0.9,-1.0,-0.95,-0.9,-1.0,-0.95,-0.9,-1.0,-0.95],
 [-1.15,-1.2,-1.1,-1.15,-1.25,-1.1,-1.2,-1.15,-1.1,-1.2,-1.15,-1.1,-1.2],
 [-1.35,-1.3,-1.4,-1.35,-1.3,-1.4,-1.35,-1.3,-1.4,-1.35,-1.3,-1.4,-1.35]
];
const bandsL = [
 [1.15,1.0,0.8,0.95,1.15,1.0,0.8,0.95,1.15,1.15,1.15,1.15,0.8],
 [0.7,0.72,0.8,0.72,0.7,0.72,0.8,0.72,0.7,0.7,0.7,0.7,0.8],
 [-0.75,-0.8,-0.95,-0.85,-0.75,-0.8,-0.95,-0.85,-0.75,-0.7,-0.7,-0.75,-0.95],
 [-0.95,-0.9,-1.0,-1.05,-1.0,-0.9,-1.0,-1.05,-1.0,-0.95,-1.0,-0.95,-1.0],
 [-1.15,-1.2,-1.1,-1.2,-1.15,-1.2,-1.1,-1.2,-1.15,-1.2,-1.1,-1.2,-1.15],
 [-1.3,-1.35,-1.3,-1.35,-1.4,-1.3,-1.35,-1.3,-1.35,-1.4,-1.3,-1.35,-1.3]
];
const bandsM = [
 [0.25,0.15,0.1,0.2,0.25,0.25,0.2,0.15,0.25,0.22,0.25,0.25,0.2],
 [-0.15,-0.25,-0.35,-0.25,-0.15,-0.2,-0.3,-0.2,-0.1,-0.15,-0.15,-0.2,-0.3],
 [-0.4,-0.35,-0.3,-0.4,-0.5,-0.45,-0.35,-0.45,-0.55,-0.45,-0.4,-0.35,-0.4],
 [-0.65,-0.6,-0.7,-0.6,-0.65,-0.7,-0.6,-0.65,-0.7,-0.6,-0.65,-0.7,-0.6],
 [-0.85,-0.9,-0.8,-0.75,-0.85,-0.9,-0.85,-0.8,-0.85,-0.9,-0.8,-0.85,-0.8],
 [-1.05,-1.0,-1.1,-1.05,-0.95,-1.05,-1.1,-1.0,-1.0,-1.05,-1.0,-1.1,-1.05],
 [-1.2,-1.25,-1.2,-1.15,-1.25,-1.2,-1.25,-1.2,-1.25,-1.2,-1.25,-1.2,-1.2],
 [-1.35,-1.3,-1.35,-1.4,-1.35,-1.3,-1.35,-1.4,-1.35,-1.3,-1.35,-1.4,-1.35],
 [-1.42,-1.42,-1.42,-1.42,-1.42,-1.42,-1.42,-1.42,-1.42,-1.42,-1.42,-1.42,-1.42]
];
const bandsN = [
 [0.55,0.52,0.5,0.52,0.55,0.55,0.55,0.55,0.55,0.55,0.55,0.55,0.52],
 [-0.5,-0.55,-0.65,-0.6,-0.55,-0.6,-0.65,-0.55,-0.5,-0.5,-0.55,-0.55,-0.5],
 [-0.7,-0.65,-0.6,-0.7,-0.75,-0.7,-0.6,-0.7,-0.75,-0.7,-0.65,-0.7,-0.7],
 [-0.85,-0.9,-0.85,-0.8,-0.9,-0.95,-0.85,-0.8,-0.9,-0.95,-0.85,-0.8,-0.9],
 [-0.95,-0.9,-1.0,-0.95,-0.9,-1.0,-0.95,-0.9,-1.0,-0.95,-0.9,-1.0,-0.95],
 [-1.15,-1.2,-1.1,-1.15,-1.25,-1.1,-1.2,-1.15,-1.1,-1.2,-1.15,-1.1,-1.2],
 [-1.35,-1.3,-1.4,-1.35,-1.3,-1.4,-1.35,-1.3,-1.4,-1.35,-1.3,-1.4,-1.35]
];
const bandsO = [
 [0.92,0.95,0.92,0.92,0.95,0.95,0.92,0.92,0.95,0.95,0.92,0.9,0.95],
 [-0.9,-0.95,-1.05,-1.0,-0.95,-0.9,-0.95,-1.0,-0.9,-0.95,-1.0,-0.95,-0.85],
 [-1.05,-1.0,-1.1,-1.15,-1.05,-1.0,-1.1,-1.15,-1.05,-1.1,-1.05,-1.0,-1.05],
 [-1.2,-1.25,-1.2,-1.3,-1.25,-1.2,-1.25,-1.3,-1.25,-1.2,-1.25,-1.3,-1.2],
 [-1.35,-1.4,-1.35,-1.3,-1.4,-1.35,-1.4,-1.35,-1.3,-1.4,-1.35,-1.4,-1.35]
];
const panelBands = {
  a: bandsA, b: bandsB, c: bandsC, d: bandsA, e: bandsEdn, f: bandsFdn,
  g: bandsG, h: bandsH, i: bandsI,
  j: vbJ.concat(cbDense), k: bandsK.concat(cbDense), l: bandsL.concat(cbDenseHse),
  m: bandsM.concat(cbDense), n: bandsN.concat(cbDense), o: bandsO.concat(cbDenseHse)
};
const panelSpinUp = { e: bandsEup, f: bandsFup };

(function drawFig2() {
  const g = document.getElementById("fig2");
  const colLeft = [2039, 2248, 2458], rowTop = [119, 275, 430, 587, 742];
  const PW = 170, PH = 136, eTop = 3.45, eBot = -1.5;
  const defs = mk(g, "defs", {});
  colTitles.forEach((t, c) => {
    const el = mk(g, "text", { x: colLeft[c] + PW / 2, y: 104, "text-anchor": "middle", "font-size": 11, class: "sa" }, t);
    
    
  });
  rowTitles.forEach((t, r) => {
    const cy = rowTop[r] + PH / 2 - 10;
    const el = mk(g, "text", { x: 2653, y: cy, "font-size": 15, class: "sa", "text-anchor": "middle", transform: "rotate(90 2653 " + cy + ")" }, t);
    
    
  });
  panelLetters.forEach((L, i) => {
    const r = Math.floor(i / 3), c = i % 3;
    const x0 = colLeft[c], y0 = rowTop[r];
    const xs = k => x0 + k * PW;
    const ys = e => y0 + (eTop - e) / (eTop - eBot) * PH;
    const pg = mk(g, "g", {});
    
    
    const cp = mk(defs, "clipPath", { id: "clip" + L });
    mk(cp, "rect", { x: x0, y: y0, width: PW, height: PH });
    mk(pg, "rect", { x: x0, y: y0, width: PW, height: PH, fill: "#fff" });
    const sp = r < 3 ? symPointsA : symPointsB;
    sp.forEach((k, j) => {
      if (j > 0 && j < sp.length - 1) mk(pg, "line", { x1: xs(k), y1: y0, x2: xs(k), y2: y0 + PH, stroke: "#777", "stroke-width": 0.8, "stroke-dasharray": "1.5,1" });
      const lb = mk(pg, "text", { x: xs(k), y: y0 + PH + 11, "font-size": 8.5, class: "sa", "text-anchor": "middle", fill: "#333" }, symLabels[j]);
      
      
    });
    mk(pg, "line", { x1: x0, y1: ys(0), x2: x0 + PW, y2: ys(0), stroke: "#555", "stroke-width": 0.8, "stroke-dasharray": "1.5,1" });
    energyTicks.forEach(e => {
      mk(pg, "line", { x1: x0, y1: ys(e), x2: x0 + 3, y2: ys(e), stroke: "#666", "stroke-width": 0.8 });
      const tl = mk(pg, "text", { x: x0 - 6, y: ys(e) + 3, "font-size": 8, class: "sa", "text-anchor": "end", fill: "#333" }, String(e));
      
      
    });
    const ylx = x0 - 22, yly = y0 + PH / 2;
    const yl = mk(pg, "text", { x: ylx, y: yly, "font-size": 8, class: "sa it", "text-anchor": "middle", fill: "#333", transform: "rotate(-90 " + ylx + " " + yly + ")" });
    yl.textContent = "E-E";
    mk(yl, "tspan", { "baseline-shift": "sub", "font-size": 6 }, "f");
    mk(yl, "tspan", { "font-style": "normal" }, " (eV)");
    
    
    const lt = mk(pg, "text", { x: x0 - 27, y: y0 + 5, "font-size": 14, class: "sa" }, L);
    
    
    const bg = mk(pg, "g", { "clip-path": "url(#clip" + L + ")" });
    const bands = panelBands[L];
    const ups = panelSpinUp[L];
    bands.forEach(b => {
      const kk = b.length === kFine.length ? kFine : kGrid;
      const p = mk(bg, "path", { d: smooth(b.map((e, j) => [xs(kk[j]), ys(e)])), fill: "none", stroke: "#1f1fe0", "stroke-width": 1.3 });
      
      
    });
    if (ups) ups.forEach(b => {
      const p = mk(bg, "path", { d: smooth(b.map((e, j) => [xs(kGrid[j]), ys(e)])), fill: "none", stroke: "#e01010", "stroke-width": 1.3, "stroke-dasharray": "4,2.5" });
      
      
    });
    mk(pg, "rect", { x: x0, y: y0, width: PW, height: PH, fill: "none", stroke: "#888", "stroke-width": 1 });
    if (ups) {
      const lx = x0 + 98, ly = y0 + 56;
      const leg = mk(pg, "g", {});
      
      
      mk(leg, "line", { x1: lx, y1: ly, x2: lx + 16, y2: ly, stroke: "#e01010", "stroke-width": 1.4, "stroke-dasharray": "4,2" });
      mk(leg, "text", { x: lx + 18, y: ly + 3, "font-size": 8, class: "sa", fill: "#333" }, "up");
      mk(leg, "line", { x1: lx, y1: ly + 9, x2: lx + 16, y2: ly + 9, stroke: "#1f1fe0", "stroke-width": 1.2 });
      mk(leg, "text", { x: lx + 18, y: ly + 12, "font-size": 8, class: "sa", fill: "#333" }, "dn");
    }
  });
})();

/* ================= FIG 3 DATA (PDOS) ================= */
const pdosEnergy = [-1,-0.9,-0.8,-0.7,-0.6,-0.5,-0.4,-0.3,-0.2,0.3,0.35,0.4,0.45,0.5,0.55,0.6,0.65,0.7,0.75,0.8,0.85,0.9,1.0,2.3,2.4,2.5,2.6,2.7,2.8,2.9,3.0];
const pdosTicks = [-1, 0, 1, 2, 3];
const pdosPanelNames = ["AFM-I", "AFM-II", "AFM-III"];
const pdosLegend = ["Total", "Cu d", "Sb s", "Sb p", "Cl  p"];
const totalAFM1 = [0.41,0.45,0.62,0.56,0.50,0.17,0.30,0.03,0,0.02,0.15,0.29,0.22,0.05,0.25,0.18,0.03,0.15,0.29,0.20,0.03,0,0,0,0.03,0.22,0.35,0.62,0.63,0.38,0.45];
const cudAFM1   = [0.01,0.02,0.02,0.02,0.01,0.005,0.005,0,0,0,0.07,0.16,0.10,0.02,0.13,0.09,0.02,0.08,0.14,0.08,0.01,0,0,0,0,0,0,0,0,0,0];
const sbsAFM1   = [0.05,0.07,0.10,0.09,0.08,0.04,0.05,0.01,0,0,0,0.01,0.01,0,0.01,0.01,0,0.01,0.01,0.01,0,0,0,0,0,0.01,0.01,0.01,0.01,0.01,0.01];
const sbpAFM1   = [0.02,0.02,0.01,0.01,0.01,0.01,0.01,0,0,0,0,0,0,0,0,0,0,0,0,0,0,0,0,0,0,0.03,0.08,0.15,0.18,0.14,0.15];
const clpAFM1   = [0.22,0.26,0.34,0.30,0.27,0.15,0.17,0.02,0,0,0.03,0.06,0.04,0.01,0.06,0.03,0.01,0.04,0.07,0.04,0.01,0,0,0,0,0.02,0.05,0.09,0.10,0.08,0.08];
const totalAFM2 = [0.52,0.58,0.57,0.62,0.48,0.17,0.28,0.03,0,0.02,0.18,0.28,0.10,0.06,0.26,0.16,0.04,0.14,0.28,0.18,0.03,0,0,0,0.02,0.15,0.30,0.55,0.75,0.45,0.60];
const cudAFM2   = [0.01,0.02,0.02,0.02,0.01,0.005,0.005,0,0,0,0.09,0.15,0.05,0.03,0.13,0.08,0.02,0.07,0.14,0.08,0.01,0,0,0,0,0,0,0,0,0,0];
const sbsAFM2   = [0.05,0.07,0.09,0.08,0.06,0.04,0.04,0.01,0,0,0,0.01,0.01,0,0.01,0.01,0,0.01,0.01,0.01,0,0,0,0,0,0.01,0.01,0.01,0.01,0.01,0.01];
const sbpAFM2   = [0.02,0.02,0.01,0.01,0.01,0.01,0.01,0,0,0,0,0,0,0,0,0,0,0,0,0,0,0,0,0,0,0.02,0.06,0.12,0.18,0.14,0.16];
const clpAFM2   = [0.25,0.28,0.33,0.30,0.24,0.14,0.16,0.02,0,0,0.03,0.06,0.03,0.01,0.05,0.03,0.01,0.04,0.07,0.04,0.01,0,0,0,0,0.01,0.04,0.08,0.12,0.09,0.10];
const totalAFM3 = [0.62,0.50,0.70,0.68,0.62,0.30,0.02,0,0,0,0,0,0.03,0.45,0.90,0.40,0.02,0,0,0,0,0,0,0,0.01,0.10,0.30,0.60,0.75,0.45,0.55];
const cudAFM3   = [0.04,0.04,0.05,0.04,0.03,0.01,0,0,0,0,0,0,0.01,0.20,0.44,0.18,0.01,0,0,0,0,0,0,0,0,0,0,0,0,0,0];
const sbsAFM3   = [0.08,0.09,0.10,0.10,0.09,0.04,0,0,0,0,0,0,0,0.02,0.04,0.02,0,0,0,0,0,0,0,0,0,0,0.01,0.01,0.01,0.01,0.01];
const sbpAFM3   = [0.02,0.02,0.02,0.02,0.02,0.01,0,0,0,0,0,0,0,0,0.01,0,0,0,0,0,0,0,0,0,0,0.02,0.07,0.13,0.18,0.14,0.16];
const clpAFM3   = [0.30,0.25,0.35,0.36,0.33,0.15,0.01,0,0,0,0,0,0.01,0.14,0.27,0.12,0.01,0,0,0,0,0,0,0,0,0.02,0.05,0.10,0.12,0.09,0.10];
const pdosPanels = [
  [totalAFM1, cudAFM1, sbsAFM1, sbpAFM1, clpAFM1],
  [totalAFM2, cudAFM2, sbsAFM2, sbpAFM2, clpAFM2],
  [totalAFM3, cudAFM3, sbsAFM3, sbpAFM3, clpAFM3]
];

(function drawFig3() {
  const g = document.getElementById("fig3");
  const lefts = [2917, 3148, 3382], top = 750, W = 202, H = 162;
  const colors = ["#000", "#e01010", "#1010c0", "#30b070", "#8a10d0"];
  const letters = ["a", "b", "c"];
  const frac = e => e <= 1 ? (e + 1) * 0.351 : (e <= 2 ? 0.702 + (e - 1) * 0.079 : 0.781 + (e - 2) * 0.219);
  pdosPanels.forEach((series, p) => {
    const x0 = lefts[p];
    const xs = e => x0 + frac(e) * W;
    const ys = v => top + H - v * H;
    const pg = mk(g, "g", {});
    
    
    mk(pg, "rect", { x: x0, y: top, width: W, height: H, fill: "#fff", stroke: "#777", "stroke-width": 1 });
    for (let s = series.length - 1; s >= 0; s--) {
      const pts = series[s].map((v, j) => [xs(pdosEnergy[j]), ys(v)]);
      const path = mk(pg, "path", { d: smooth(pts), fill: "none", stroke: colors[s], "stroke-width": s === 0 ? 1.6 : 1.4 });
      
      
    }
    pdosTicks.forEach(t => {
      mk(pg, "line", { x1: xs(t), y1: top + H, x2: xs(t), y2: top + H - 3, stroke: "#777" });
      const tl = mk(pg, "text", { x: xs(t), y: top + H + 12, "font-size": 9, class: "sa", "text-anchor": "middle" }, String(t));
      
      
    });
    const bx = xs(1.5);
    [top, top + H].forEach(yy => {
      mk(pg, "rect", { x: bx - 4, y: yy - 3, width: 8, height: 6, fill: "#fff" });
      mk(pg, "text", { x: bx, y: yy + 3, "font-size": 8, class: "sa", "text-anchor": "middle" }, "//");
    });
    const xl = mk(pg, "text", { x: x0 + 0.5 * W - 5, y: top + H + 26, "font-size": 9.5, class: "sa", "text-anchor": "middle" });
    mk(xl, "tspan", { "font-style": "italic" }, "E");
    mk(xl, "tspan", {}, "-");
    mk(xl, "tspan", { "font-style": "italic" }, "E");
    mk(xl, "tspan", { "baseline-shift": "sub", "font-size": 7 }, "F");
    mk(xl, "tspan", {}, " (eV)");
    
    
    const ylx = x0 - 16, yly = top + H * 0.52;
    const yl = mk(pg, "text", { x: ylx, y: yly, "font-size": 9, class: "sa", "text-anchor": "middle", transform: "rotate(-90 " + ylx + " " + yly + ")" }, "PDOS");
    
    
    const lt = mk(pg, "text", { x: x0 - 20, y: top + 17, "font-size": 14, class: "sa" }, letters[p]);
    
    
    const nm = mk(pg, "text", { x: x0 + 0.72 * W, y: top + 0.15 * H + 6, "font-size": 14, class: "sa", "text-anchor": "middle" }, pdosPanelNames[p]);
    
    
    const lx = x0 + 0.21 * W, ly = top + 0.08 * H;
    const leg = mk(pg, "g", {});
    
    
    mk(leg, "rect", { x: lx + 1, y: ly + 1, width: 0.25 * W, height: 0.42 * H + 2, fill: "#999" });
    mk(leg, "rect", { x: lx, y: ly, width: 0.25 * W, height: 0.42 * H, fill: "#fff", stroke: "#888" });
    pdosLegend.forEach((name, s) => {
      const yy = ly + 7 + s * 12.5;
      mk(leg, "line", { x1: lx + 2, y1: yy, x2: lx + 18, y2: yy, stroke: colors[s], "stroke-width": 1.6 });
      mk(leg, "text", { x: lx + 20, y: yy + 3, "font-size": 8.5, class: "sa" }, name);
    });
  });
})();

/* ================= FIG 4 DATA (absorption) ================= */
const absEnergy = [0,0.5,0.8,1.0,1.2,1.35,1.5,1.7,1.9,2.1,2.3,2.5,2.8,3.0,3.2,3.4,3.6,3.8,4.0,4.2,4.4,4.55,4.7,4.9,5.05,5.2,5.5,5.8,6.0];
const absAlpha  = [0,0.05,0.2,0.6,1.1,1.32,1.15,0.7,0.35,0.22,0.25,0.35,0.4,0.55,1.2,2.2,3.0,3.7,4.2,4.8,5.7,6.3,6.2,5.4,5.0,5.2,6.3,7.0,7.6];
const absXTicks = [0, 1, 2, 3, 4, 5, 6];
const absYTicks = [0, 2, 4, 6, 8];

(function drawFig4() {
  const g = document.getElementById("fig4");
  const x0 = 4059, x1 = 4353, y0 = 308, y1 = 548;
  const xs = v => x0 + (v - 0) / 6 * (x1 - x0);
  const ys = v => y1 - v / 8 * (y1 - y0);
  mk(g, "rect", { x: x0, y: y0, width: x1 - x0, height: y1 - y0, fill: "#fff", stroke: "#333", "stroke-width": 1.2 });
  absXTicks.forEach(t => {
    mk(g, "line", { x1: xs(t), y1: y1, x2: xs(t), y2: y1 - 4, stroke: "#333" });
    mk(g, "line", { x1: xs(t), y1: y0, x2: xs(t), y2: y0 + 4, stroke: "#333" });
    const tl = mk(g, "text", { x: xs(t), y: y1 + 19, "font-size": 15, class: "sa", "text-anchor": "middle" }, String(t));
    
    
  });
  absYTicks.forEach(t => {
    mk(g, "line", { x1: x0, y1: ys(t), x2: x0 + 4, y2: ys(t), stroke: "#333" });
    mk(g, "line", { x1: x1, y1: ys(t), x2: x1 - 4, y2: ys(t), stroke: "#333" });
    const tl = mk(g, "text", { x: x0 - 6, y: ys(t) + 6, "font-size": 15, class: "sa", "text-anchor": "end" }, String(t));
    
    
  });
  const line = mk(g, "path", { d: smooth(absEnergy.map((e, i) => [xs(e), ys(absAlpha[i])])), fill: "none", stroke: "#2020d0", "stroke-width": 1.4 });
  
  
  const xl = mk(g, "text", { x: (x0 + x1) / 2, y: 594, "font-size": 15, class: "sa", "text-anchor": "middle" });
  mk(xl, "tspan", { "font-style": "italic" }, "hν");
  mk(xl, "tspan", {}, " (eV)");
  
  
  const ylx = 4031, yly = 428;
  const yl = mk(g, "text", { x: ylx, y: yly, "font-size": 14, class: "sa", "text-anchor": "middle", transform: "rotate(-90 " + ylx + " " + yly + ")" });
  mk(yl, "tspan", { "font-style": "italic" }, "α");
  mk(yl, "tspan", {}, " (10");
  mk(yl, "tspan", { "baseline-shift": "super", "font-size": 9 }, "4");
  mk(yl, "tspan", {}, " cm");
  mk(yl, "tspan", { "baseline-shift": "super", "font-size": 9 }, "-1");
  mk(yl, "tspan", {}, ")");
  
  
})();

/* ================= FIG 1 (crystal structure illustrations) ================= */
(function drawFig1() {
  const g = document.getElementById("fig1");
  const green = "#3cc83c", brown = "#b88050", blue = "#2840c8", red = "#e01818";
  const lab = (x, y, t, fs) => mk(g, "text", { x: x, y: y, "font-size": fs, class: "s" }, t);
  // panel a
  mk(g, "polygon", { points: "240,669 427,669 445,765 257,765", fill: "none", stroke: "#777", "stroke-width": 0.9 });
  mk(g, "polygon", { points: "308,654 317,705 275,726 266,682", fill: "#c08a64", opacity: 0.9 });
  mk(g, "polygon", { points: "357,685 366,727 328,748 318,705", fill: "#3048c8" });
  mk(g, "polygon", { points: "409,706 420,752 376,779 366,727", fill: "#b8784e" });
  [[308,654],[317,705],[275,726],[266,682],[357,685],[366,727],[328,748],[318,705],[409,706],[420,752],[376,779]].forEach(p =>
    mk(g, "circle", { cx: p[0], cy: p[1], r: 5.5, fill: green, stroke: "#1a8a1a", "stroke-width": 0.6 }));
  mk(g, "line", { x1: 243, y1: 776, x2: 241, y2: 755, stroke: red, "stroke-width": 2 });
  mk(g, "line", { x1: 245, y1: 777, x2: 272, y2: 777, stroke: blue, "stroke-width": 2.5 });
  lab(216, 662, "a", 22);
  // panel b
  mk(g, "polygon", { points: "502,668 689,668 708,764 520,764", fill: "none", stroke: "#777", "stroke-width": 0.9 });
  const bBlue = [[553,691],[562,739],[647,691],[657,739]];
  const bBrown = [[525,680],[580,703],[537,726],[590,750],[620,680],[675,703],[630,726],[685,750]];
  bBrown.concat(bBlue).forEach(p => {
    [[-9,-9],[9,9],[-6,8],[6,-8]].forEach(d => {
      mk(g, "line", { x1: p[0], y1: p[1], x2: p[0] + d[0], y2: p[1] + d[1], stroke: green, "stroke-width": 1.2 });
      mk(g, "circle", { cx: p[0] + d[0], cy: p[1] + d[1], r: 2.2, fill: green });
    });
  });
  bBrown.forEach(p => mk(g, "circle", { cx: p[0], cy: p[1], r: 4, fill: brown }));
  bBlue.forEach(p => mk(g, "circle", { cx: p[0], cy: p[1], r: 4, fill: blue }));
  [[540,701,692],[633,692,701],[550,749,740],[645,740,749]].forEach(a =>
    mk(g, "line", { x1: a[0], y1: a[1], x2: a[0], y2: a[2], stroke: red, "stroke-width": 2 }));
  lab(471, 670, "b", 22);
  lab(566, 661, "AFM-I", 14);
  mk(g, "line", { x1: 500, y1: 774, x2: 499, y2: 752, stroke: red, "stroke-width": 2 });
  mk(g, "line", { x1: 502, y1: 774, x2: 528, y2: 774, stroke: blue, "stroke-width": 2.5 });
  // panels c and d
  const cBrown = [[275,872],[306,865],[350,870],[380,864],[314,927],[357,930],[388,925],[417,918]];
  const cBlue = [[309,840],[338,835],[318,902],[347,896],[354,957],[383,950]];
  [0, 262].forEach((dx, idx) => {
    mk(g, "polygon", { points: (240+dx)+",843 "+(414+dx)+",832 "+(456+dx)+",949 "+(283+dx)+",960", fill: "none", stroke: "#aaa", "stroke-width": 0.9 });
    mk(g, "line", { x1: 240+dx, y1: 843, x2: 278+dx, y2: 826, stroke: "#aaa", "stroke-width": 0.9 });
    mk(g, "line", { x1: 414+dx, y1: 832, x2: 440+dx, y2: 848, stroke: "#aaa", "stroke-width": 0.9 });
    cBrown.concat(cBlue).forEach(p => {
      [[-14,-14],[14,14],[-14,14],[14,-14]].forEach(d => {
        mk(g, "line", { x1: p[0]+dx, y1: p[1], x2: p[0]+dx+d[0], y2: p[1]+d[1], stroke: green, "stroke-width": 1.6 });
        mk(g, "circle", { cx: p[0]+dx+d[0], cy: p[1]+d[1], r: 2.2, fill: green });
      });
    });
    cBrown.forEach(p => mk(g, "circle", { cx: p[0]+dx, cy: p[1], r: 5, fill: brown }));
    cBlue.forEach(p => mk(g, "circle", { cx: p[0]+dx, cy: p[1], r: 5, fill: blue }));
    const arrows = idx === 0 ? [[296,838,828],[329,835,825],[305,904,894],[335,899,889],[339,960,950],[373,953,943]]
                             : [[296,828,838],[329,835,825],[305,894,904],[335,889,899],[339,950,960],[373,953,943]];
    arrows.forEach(a => mk(g, "line", { x1: a[0]+dx, y1: a[1], x2: a[0]+dx, y2: a[2], stroke: red, "stroke-width": 2 }));
    mk(g, "line", { x1: 244+dx, y1: 962, x2: 237+dx, y2: 935, stroke: red, "stroke-width": 2 });
    mk(g, "line", { x1: 246+dx, y1: 962, x2: 272+dx, y2: 962, stroke: blue, "stroke-width": 2.5 });
    mk(g, "circle", { cx: 238+dx, cy: 963, r: 3, fill: "#1a9a1a" });
  });
  lab(214, 836, "c", 22);
  lab(471, 838, "d", 22);
  lab(377, 822, "AFM-II", 14);
  lab(640, 822, "AFM-III", 14);
})();
</script>
</body></html>
